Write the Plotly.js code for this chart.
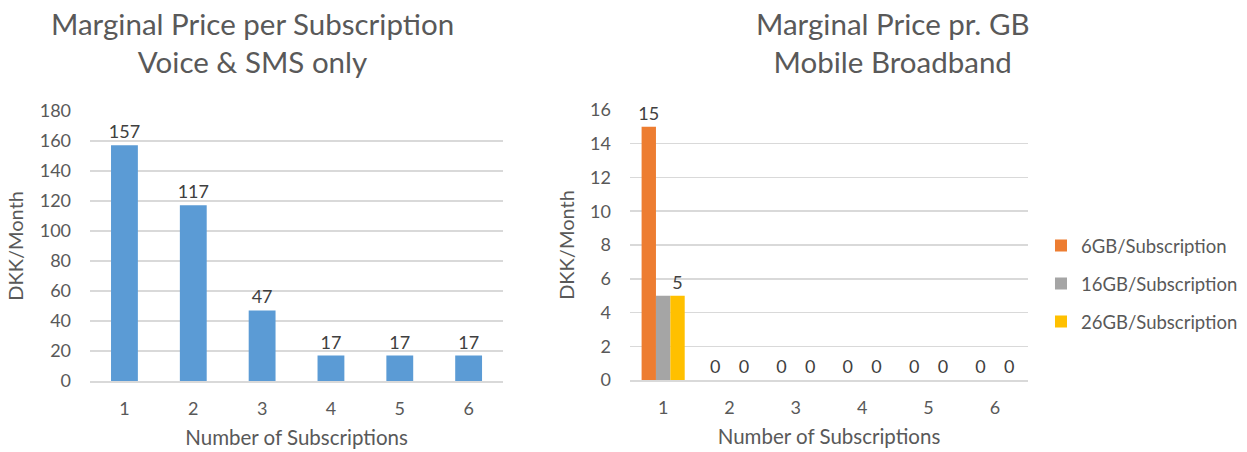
<!DOCTYPE html>
<html>
<head>
<meta charset="utf-8">
<script src="https://cdn.plot.ly/plotly-3.0.1.min.js"></script>
<style>html,body{margin:0;padding:0;background:#fff;}#chart{width:1247px;height:452px;}</style>
</head>
<body>
<div id="chart"></div>
<script>
const categories = ['1', '2', '3', '4', '5', '6'];
const voiceSmsValues = [157, 117, 47, 17, 17, 17];
const gb6Values = [15, 0, 0, 0, 0, 0];
const gb16Values = [5, 0, 0, 0, 0, 0];
const gb26Values = [5, 0, 0, 0, 0, 0];
const seriesNames = ['6GB/Subscription', '16GB/Subscription', '26GB/Subscription'];
const leftTitle = 'Marginal Price per Subscription<br>Voice &amp; SMS only';
const rightTitle = 'Marginal Price pr. GB<br>Mobile Broadband';
const yTitle = 'DKK/Month';
const xTitle = 'Number of Subscriptions';

const FONT = 'Lato, "Open Sans", sans-serif';
const TXT = '#595959';
const LBL = '#404040';
const GRID = '#D9D9D9';

const labelFont = {family: FONT, size: 18, color: LBL};

const traces = [
  {type: 'bar', x: categories, y: voiceSmsValues, xaxis: 'x', yaxis: 'y', width: 0.39,
   marker: {color: '#5B9BD5'}, showlegend: false,
   text: voiceSmsValues.map(String), textposition: 'outside', cliponaxis: false, constraintext: 'none',
   textfont: labelFont},
  {type: 'bar', x: categories, y: gb6Values, xaxis: 'x2', yaxis: 'y2', name: seriesNames[0],
   marker: {color: '#ED7D31'}, legendgroup: 'a',
   text: gb6Values.map(String), textposition: 'outside', cliponaxis: false, constraintext: 'none',
   textfont: labelFont},
  {type: 'bar', x: categories, y: gb16Values, xaxis: 'x2', yaxis: 'y2', name: seriesNames[1],
   marker: {color: '#A5A5A5'}, legendgroup: 'b', textposition: 'none'},
  {type: 'bar', x: categories, y: gb26Values, xaxis: 'x2', yaxis: 'y2', name: seriesNames[2],
   marker: {color: '#FFC000'}, legendgroup: 'c',
   text: gb26Values.map(String), textposition: 'outside', cliponaxis: false, constraintext: 'none',
   textfont: labelFont}
];

const xCommon = {
  type: 'category', showgrid: false, zeroline: false, showline: true, linecolor: GRID, linewidth: 1.5,
  ticks: '', tickfont: {family: FONT, size: 18, color: TXT}, ticklabelstandoff: 11,
  title: {text: xTitle, font: {family: FONT, size: 20.5, color: TXT}, standoff: 12}
};
const yCommon = {
  showgrid: true, gridcolor: GRID, gridwidth: 1.5, zeroline: false, showline: false,
  ticks: '', tickfont: {family: FONT, size: 18, color: TXT}, ticklabelstandoff: 18,
  title: {text: yTitle, font: {family: FONT, size: 20, color: TXT}, standoff: 10}
};

const layout = {
  width: 1247, height: 452,
  margin: {l: 0, r: 0, t: 0, b: 0},
  paper_bgcolor: '#fff', plot_bgcolor: '#fff',
  barmode: 'group', bargap: 0.35, bargroupgap: 0,
  font: {family: FONT, color: TXT},
  xaxis: Object.assign({}, xCommon, {domain: [0.0722, 0.4034], anchor: 'y'}),
  yaxis: Object.assign({}, yCommon, {domain: [0.157, 0.755], range: [0, 180], dtick: 20, anchor: 'x'}),
  xaxis2: Object.assign({}, xCommon, {domain: [0.5052, 0.8244], anchor: 'y2'}),
  yaxis2: Object.assign({}, yCommon, {domain: [0.159, 0.757], range: [0, 16], dtick: 2, anchor: 'x2'}),
  legend: {x: 0.8348, y: 0.372, xanchor: 'left', yanchor: 'middle', orientation: 'v',
           font: {family: FONT, size: 18.5, color: TXT}, tracegroupgap: 11, bgcolor: 'rgba(0,0,0,0)'},
  annotations: [
    {text: leftTitle, xref: 'paper', yref: 'paper', x: 252/1247, y: 1 - 43/452, xanchor: 'center', yanchor: 'middle',
     showarrow: false, font: {family: FONT, size: 29.5, color: TXT}},
    {text: rightTitle, xref: 'paper', yref: 'paper', x: 893/1247, y: 1 - 43/452, xanchor: 'center', yanchor: 'middle',
     showarrow: false, font: {family: FONT, size: 29.5, color: TXT}}
  ]
};

Plotly.newPlot('chart', traces, layout, {staticPlot: true, displayModeBar: false});
</script>
</body>
</html>
